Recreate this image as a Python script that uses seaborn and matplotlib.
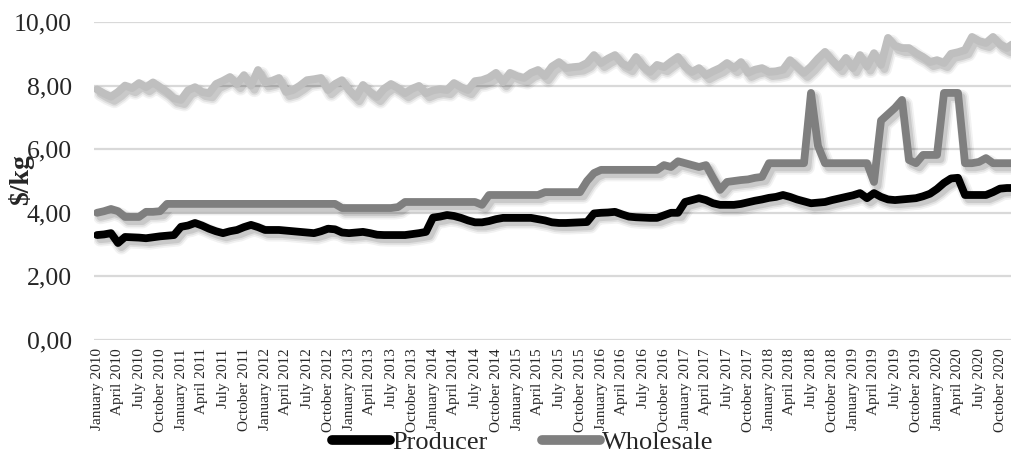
import numpy as np
import pandas as pd
import matplotlib
matplotlib.use("Agg")
import matplotlib.pyplot as plt
import matplotlib.patheffects as pe
from matplotlib.lines import Line2D
import seaborn as sns

# Monthly prices, January 2010 - December 2020 ($/kg)
months = pd.date_range("2010-01-01", "2020-12-01", freq="MS")

producer = [
    3.30, 3.32, 3.36, 3.05, 3.24, 3.23, 3.22, 3.20, 3.23, 3.26, 3.28, 3.30,
    3.56, 3.60, 3.68, 3.60, 3.50, 3.42, 3.36, 3.42, 3.46, 3.55, 3.62, 3.55,
    3.46, 3.46, 3.46, 3.44, 3.42, 3.40, 3.38, 3.36, 3.42, 3.50, 3.48, 3.38,
    3.36, 3.38, 3.40, 3.36, 3.31, 3.30, 3.30, 3.30, 3.30, 3.33, 3.36, 3.40,
    3.85, 3.88, 3.93, 3.90, 3.84, 3.76, 3.70, 3.70, 3.74, 3.80, 3.84, 3.84,
    3.84, 3.84, 3.84, 3.80, 3.76, 3.70, 3.68, 3.68, 3.69, 3.70, 3.71, 3.98,
    4.00, 4.01, 4.03, 3.95, 3.88, 3.86, 3.85, 3.84, 3.84, 3.92, 4.00, 4.00,
    4.34, 4.40, 4.46, 4.40, 4.30, 4.25, 4.25, 4.25, 4.28, 4.33, 4.38, 4.42,
    4.47, 4.50, 4.56, 4.50, 4.42, 4.36, 4.30, 4.32, 4.34, 4.40, 4.45, 4.50,
    4.55, 4.62, 4.46, 4.62, 4.50, 4.42, 4.40, 4.42, 4.44, 4.46, 4.52, 4.60,
    4.75, 4.94, 5.08, 5.10, 4.56, 4.56, 4.56, 4.56, 4.65, 4.76, 4.78, 4.78,
]

wholesale = [
    4.00, 4.05, 4.12, 4.05, 3.87, 3.87, 3.87, 4.03, 4.03, 4.05, 4.28, 4.28,
    4.28, 4.28, 4.28, 4.28, 4.28, 4.28, 4.28, 4.28, 4.28, 4.28, 4.28, 4.28,
    4.28, 4.28, 4.28, 4.28, 4.28, 4.28, 4.28, 4.28, 4.28, 4.28, 4.28, 4.15,
    4.15, 4.15, 4.15, 4.15, 4.15, 4.15, 4.15, 4.18, 4.34, 4.34, 4.34, 4.34,
    4.34, 4.34, 4.34, 4.34, 4.34, 4.34, 4.34, 4.25, 4.56, 4.56, 4.56, 4.56,
    4.56, 4.56, 4.56, 4.56, 4.65, 4.65, 4.65, 4.65, 4.65, 4.65, 5.00, 5.25,
    5.35, 5.35, 5.35, 5.35, 5.35, 5.35, 5.35, 5.35, 5.35, 5.50, 5.44, 5.62,
    5.56, 5.50, 5.44, 5.50, 5.10, 4.72, 4.97, 5.00, 5.03, 5.05, 5.10, 5.13,
    5.56, 5.56, 5.56, 5.56, 5.56, 5.56, 7.77, 6.10, 5.56, 5.56, 5.56, 5.56,
    5.56, 5.56, 5.56, 4.97, 6.90, 7.10, 7.30, 7.55, 5.66, 5.56, 5.82, 5.82,
    5.82, 7.77, 7.77, 7.77, 5.56, 5.56, 5.60, 5.72, 5.56, 5.56, 5.56, 5.56,
]

retail = [
    7.88, 7.75, 7.65, 7.80, 8.00, 7.92, 8.08, 7.95, 8.10, 7.95, 7.80, 7.60,
    7.55, 7.85, 7.95, 7.80, 7.76, 8.05, 8.15, 8.27, 8.05, 8.33, 8.00, 8.49,
    8.10, 8.15, 8.24, 7.80, 7.86, 8.00, 8.17, 8.20, 8.24, 7.86, 8.05, 8.17,
    7.86, 7.64, 8.02, 7.80, 7.64, 7.90, 8.05, 7.92, 7.76, 7.90, 7.99, 7.76,
    7.85, 7.89, 7.86, 8.08, 7.95, 7.86, 8.14, 8.17, 8.25, 8.40, 8.11, 8.40,
    8.30, 8.24, 8.40, 8.49, 8.30, 8.60, 8.74, 8.55, 8.58, 8.60, 8.71, 8.96,
    8.71, 8.85, 8.96, 8.70, 8.58, 8.90, 8.60, 8.43, 8.65, 8.58, 8.75, 8.90,
    8.60, 8.43, 8.55, 8.33, 8.45, 8.55, 8.71, 8.55, 8.74, 8.40, 8.50, 8.55,
    8.43, 8.45, 8.50, 8.80, 8.60, 8.40, 8.60, 8.85, 9.06, 8.80, 8.58, 8.87,
    8.55, 8.96, 8.60, 9.02, 8.65, 9.50, 9.25, 9.18, 9.18, 9.02, 8.90, 8.74,
    8.80, 8.71, 9.00, 9.05, 9.12, 9.53, 9.40, 9.34, 9.53, 9.30, 9.18, 9.34,
]

series_names = ["Retail", "Wholesale", "Producer"]
series_colors = {"Retail": "#BFBFBF", "Wholesale": "#7F7F7F", "Producer": "#000000"}
legend_names = ["Producer", "Wholesale"]

y_ticks = [0, 2, 4, 6, 8, 10]
y_tick_labels = ["0,00", "2,00", "4,00", "6,00", "8,00", "10,00"]
x_tick_labels = [m.strftime("%B %Y") for m in months[::3]]

df = pd.DataFrame({
    "month": np.arange(len(months)),
    "Producer": producer,
    "Wholesale": wholesale,
    "Retail": retail,
})
long_df = df.melt(id_vars="month", var_name="series", value_name="price")

sns.set_style("white")
plt.rcParams["font.family"] = ["Liberation Serif", "DejaVu Serif"]

W, H = 1011, 454
fig = plt.figure(figsize=(W / 100, H / 100), dpi=100)
ax = fig.add_axes([94 / W, 1 - 340 / H, 1 - 94 / W, (340 - 22) / H])

LW = 5.6


def soft_shadow():
    # layered offset strokes give a blurred drop shadow
    return [
        pe.SimpleLineShadow(offset=(2.5, -3.0), shadow_color="black", alpha=0.05, linewidth=LW + 5),
        pe.SimpleLineShadow(offset=(2.5, -3.0), shadow_color="black", alpha=0.07, linewidth=LW + 2.5),
        pe.SimpleLineShadow(offset=(2.5, -3.0), shadow_color="black", alpha=0.10, linewidth=LW),
        pe.Normal(),
    ]


for z, name in enumerate(series_names):
    sub = long_df[long_df["series"] == name]
    sns.lineplot(data=sub, x="month", y="price", ax=ax, color=series_colors[name],
                 linewidth=LW, legend=False, zorder=3 + z, estimator=None)
    line = ax.lines[-1]
    line.set_solid_joinstyle("round")
    line.set_solid_capstyle("round")
    line.set_path_effects(soft_shadow())

ax.set_ylim(0, 10)
ax.set_xlim((94 - 97) / 7, (W - 97) / 7)
ax.set_yticks(y_ticks)
ax.set_yticklabels(y_tick_labels, fontsize=18.5)
ax.set_xticks(np.arange(0, len(months), 3))
ax.set_xticklabels(x_tick_labels, rotation=90, fontsize=11)
ax.tick_params(axis="y", length=0, pad=16)
ax.tick_params(axis="x", length=0, pad=6)
ax.set_xlabel("")
ax.set_ylabel("")
ax.yaxis.grid(True, color="#D9D9D9", linewidth=1.6)
ax.xaxis.grid(False)
ax.set_axisbelow(True)
for s in ax.spines.values():
    s.set_visible(False)

fig.text(21 / W, 1 - 180 / H, "$/kg", rotation=90, fontsize=20, fontweight="bold",
         ha="center", va="center")

handles = [Line2D([], [], color=series_colors[n], linewidth=7, solid_capstyle="round")
           for n in legend_names]
fig.legend(handles, legend_names, loc="center", bbox_to_anchor=(523 / W, 1 - 442 / H),
           ncol=2, frameon=False, fontsize=19, handlelength=2.2, handletextpad=0.08,
           columnspacing=2.05, borderpad=0)

fig.savefig("out.png", dpi=100)
